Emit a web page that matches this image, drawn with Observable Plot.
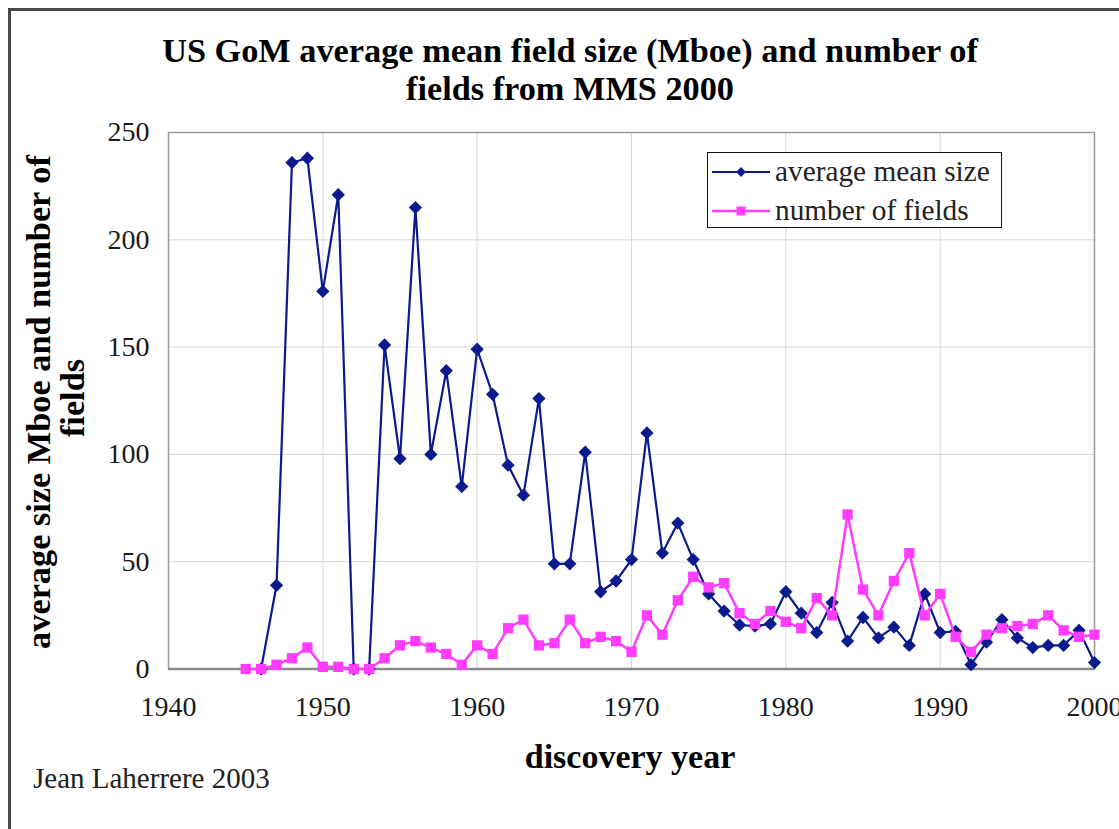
<!DOCTYPE html>
<html>
<head>
<meta charset="utf-8">
<script src="https://cdn.jsdelivr.net/npm/d3@7"></script>
<script src="https://cdn.jsdelivr.net/npm/@observablehq/plot@0.6"></script>
<style>
  body { margin: 0; background: #fff; }
  #wrap { position: relative; width: 1119px; height: 829px; overflow: hidden;
          font-family: "Liberation Serif", "Times New Roman", serif; color: #000; background: #fff; }
  #border { position: absolute; left: 8px; top: 8px; width: 1200px; height: 900px;
            border-left: 3px solid #4a4a4a; border-top: 3px solid #4a4a4a; }
  #chart { position: absolute; left: 0; top: 0; }
  .t { position: absolute; white-space: nowrap; }
  #title { left: 0; width: 1140px; top: 31px; text-align: center; font-weight: bold;
           font-size: 34.3px; line-height: 38px; }
  .ylab { font-weight: bold; font-size: 34.3px; transform: translate(-50%, -50%) rotate(-90deg); line-height: 1; }
  #xlab { left: 630px; top: 757px; transform: translate(-50%, -50%); font-weight: bold; font-size: 34px; line-height: 1; }
  #caption { left: 33px; top: 778px; transform: translateY(-50%); font-size: 29px; line-height: 1; color: #222; }
  #legend { position: absolute; left: 707px; top: 152px; width: 293px; height: 74px;
            border: 1.5px solid #111; background: #fff; }
  .lrow { position: absolute; left: 0; height: 30px; }
  .lrow svg { position: absolute; left: 4px; top: 0; }
  .lrow span { position: absolute; left: 67px; top: 15px; transform: translateY(-50%);
               font-size: 29.3px; line-height: 1; white-space: nowrap; color: #222; }
</style>
</head>
<body>
<div id="wrap">
  <div id="border"></div>
  <div id="chart"></div>
  <div class="t" id="title">US GoM average mean field size (Mboe) and number of<br>fields from MMS 2000</div>
  <div class="t ylab" style="left:38px; top:402px;">average size Mboe and number of</div>
  <div class="t ylab" style="left:72px; top:398px;">fields</div>
  <div class="t" id="xlab">discovery year</div>
  <div class="t" id="caption">Jean Laherrere 2003</div>
  <div id="legend"></div>
</div>
<script>
// ---- data ----
const years = [1945,1946,1947,1948,1949,1950,1951,1952,1953,1954,1955,1956,1957,1958,1959,
               1960,1961,1962,1963,1964,1965,1966,1967,1968,1969,1970,1971,1972,1973,1974,
               1975,1976,1977,1978,1979,1980,1981,1982,1983,1984,1985,1986,1987,1988,1989,
               1990,1991,1992,1993,1994,1995,1996,1997,1998,1999,2000];
// average mean field size (Mboe); 1945 has no value
const meanSize = [null,0,39,236,238,176,221,0,0,151,98,215,100,139,85,
                  149,128,95,81,126,49,49,101,36,41,51,110,54,68,51,
                  35,27,20.5,20,21,36,26,17,31,13,24,14.5,19.5,11,35,
                  17,17.5,2,12.5,23,14.5,10,11,11,18,3];
// number of fields
const fieldCount = [0,0,2,5,10,1,1,0,0,5,11,13,10,7,2,
                    11,7,19,23,11,12,23,12,15,13,8,25,16,32,43,
                    38,40,26,21,27,22,19,33,25,72,37,25,41,54,25,
                    35,15,8,16,19,20,21,25,18,15,16];
const xTicks = [1940,1950,1960,1970,1980,1990,2000];
const yTicks = [0,50,100,150,200,250];
const seriesNames = ["average mean size", "number of fields"];

const blue = "#0b1a8c";
const pink = "#ff3cff";

const sizeData = years.map((y, i) => ({year: y, value: meanSize[i]})).filter(d => d.value != null);
const countData = years.map((y, i) => ({year: y, value: fieldCount[i]}));

const diamond = {
  draw(ctx, size) {
    const h = Math.sqrt(size / 2);
    ctx.moveTo(0, -h); ctx.lineTo(h, 0); ctx.lineTo(0, h); ctx.lineTo(-h, 0); ctx.closePath();
  }
};

const W = 1119, H = 740;
const chart = Plot.plot({
  width: W, height: H,
  marginTop: 132, marginBottom: H - 668.5, marginLeft: 168, marginRight: 25,
  style: {fontFamily: "'Liberation Serif', 'Times New Roman', serif", fontSize: "28px", background: "transparent", color: "#1a1a1a"},
  x: {domain: [1940, 2000], label: null},
  y: {domain: [0, 250], label: null},
  marks: [
    Plot.gridX(xTicks, {stroke: "#d8d8d8", strokeOpacity: 1, strokeWidth: 1}),
    Plot.gridY(yTicks, {stroke: "#d8d8d8", strokeOpacity: 1, strokeWidth: 1}),
    Plot.frame({stroke: "#9a9a9a", strokeWidth: 1.5}),
    Plot.ruleY([0], {stroke: "#8a8a8a", strokeWidth: 2.5}),
    Plot.axisX({ticks: xTicks, tickSize: 0, tickPadding: 27, fontSize: 28, tickFormat: d => String(d), label: null}),
    Plot.axisY({ticks: yTicks, tickSize: 0, tickPadding: 19, fontSize: 28, label: null}),
    Plot.line(sizeData, {x: "year", y: "value", stroke: blue, strokeWidth: 2.2}),
    Plot.dot(sizeData, {x: "year", y: "value", symbol: diamond, r: 5.3, fill: blue, stroke: "none"}),
    Plot.line(countData, {x: "year", y: "value", stroke: pink, strokeWidth: 2.5}),
    Plot.dot(countData, {x: "year", y: "value", symbol: "square", r: 5.8, fill: pink, stroke: "none"})
  ]
});
document.getElementById("chart").appendChild(chart);

// legend
const legend = document.getElementById("legend");
const legendItems = [
  {name: seriesNames[0], color: blue, shape: "diamond", top: 4},
  {name: seriesNames[1], color: pink, shape: "square", top: 43}
];
for (const it of legendItems) {
  const row = document.createElement("div");
  row.className = "lrow";
  row.style.top = it.top + "px";
  row.style.width = "290px";
  const marker = it.shape === "diamond"
    ? `<path d="M29,10 L34,15 L29,20 L24,15 Z" fill="${it.color}"/>`
    : `<rect x="24.5" y="10.5" width="9" height="9" fill="${it.color}"/>`;
  row.innerHTML = `<svg width="60" height="30"><line x1="0" x2="58" y1="15" y2="15" stroke="${it.color}" stroke-width="${it.shape === 'diamond' ? 2 : 2.5}"/>${marker}</svg><span>${it.name}</span>`;
  legend.appendChild(row);
}
</script>
</body>
</html>
